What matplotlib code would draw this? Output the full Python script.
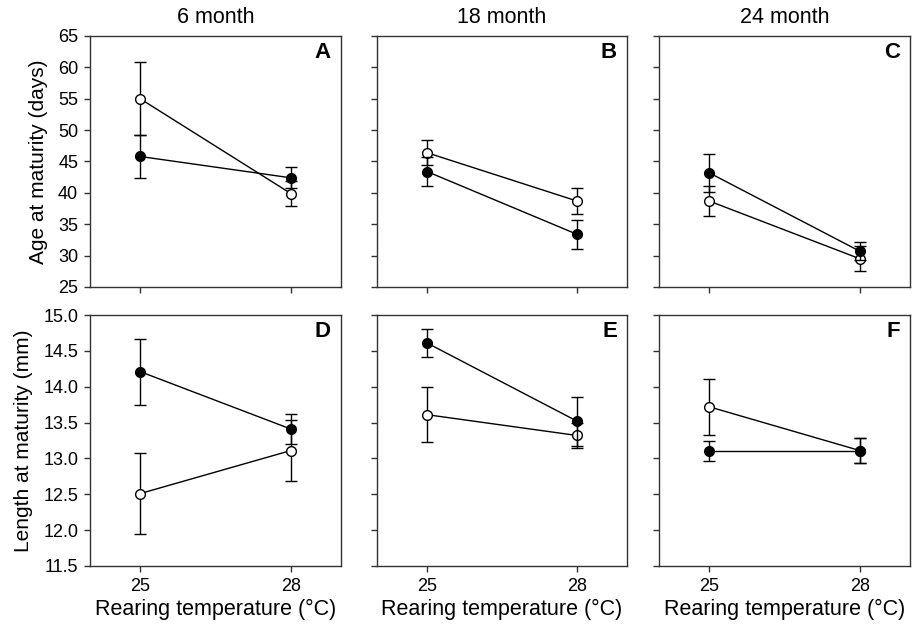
import matplotlib.pyplot as plt
import numpy as np

plt.rcParams['font.family'] = ['Liberation Sans', 'DejaVu Sans']

# Daten ablesen
temps = [25, 28]
months = ['6 month', '18 month', '24 month']
letters = [['A', 'B', 'C'], ['D', 'E', 'F']]

# Alter bei Reife (Tage): gefüllt / offen, Mittelwert und Fehler
age_filled = [[45.8, 42.4], [43.4, 33.4], [43.2, 30.7]]
age_filled_err = [[3.5, 1.7], [2.35, 2.3], [3.0, 1.4]]
age_open = [[55.0, 39.9], [46.4, 38.7], [38.7, 29.5]]
age_open_err = [[5.8, 2.0], [1.95, 2.0], [2.4, 2.0]]

# Länge bei Reife (mm)
len_filled = [[14.21, 13.41], [14.61, 13.52], [13.11, 13.11]]
len_filled_err = [[0.46, 0.21], [0.20, 0.34], [0.14, 0.17]]
len_open = [[12.51, 13.11], [13.61, 13.32], [13.72, 13.11]]
len_open_err = [[0.56, 0.42], [0.38, 0.17], [0.39, 0.18]]

W, H = 917, 624
fig = plt.figure(figsize=(W / 100, H / 100), dpi=100)

lefts = [90, 377, 659]
widths = [251, 250, 251]
tops = [36, 315]
height = 251

rows = [
    (age_filled, age_filled_err, age_open, age_open_err, (25, 65), np.arange(25, 66, 5), 'Age at maturity (days)', '{:.0f}'),
    (len_filled, len_filled_err, len_open, len_open_err, (11.5, 15.0), np.arange(11.5, 15.01, 0.5), 'Length at maturity (mm)', '{:.1f}'),
]

for r, (f, fe, o, oe, ylim, yt, ylab, fmt) in enumerate(rows):
    for c in range(3):
        ax = fig.add_axes([lefts[c] / W, 1 - (tops[r] + height) / H, widths[c] / W, height / H])
        ax.errorbar(temps, o[c], yerr=oe[c], color='black', lw=1.0, elinewidth=1.0,
                    capsize=4.6, capthick=1.0, marker='o', ms=7, mfc='white',
                    mec='black', mew=1.0, zorder=3)
        ax.errorbar(temps, f[c], yerr=fe[c], color='black', lw=1.0, elinewidth=1.0,
                    capsize=4.6, capthick=1.0, marker='o', ms=7, mfc='black',
                    mec='black', mew=1.0, zorder=4)
        ax.set_xlim(24, 29)
        ax.set_ylim(*ylim)
        ax.set_yticks(yt)
        ax.set_xticks(temps)
        for s in ax.spines.values():
            s.set_linewidth(1.0)
            s.set_color('#333333')
        ax.tick_params(direction='out', length=4.5, width=1.0, color='#333333',
                       labelsize=13, pad=4)
        if c == 0:
            ax.set_yticklabels([fmt.format(v) for v in yt])
            ax.set_ylabel(ylab, fontsize=15, labelpad=7)
        else:
            ax.set_yticklabels([])
        if r == 1:
            ax.set_xlabel('Rearing temperature (°C)', fontsize=15.5, labelpad=3)
        else:
            ax.set_xticklabels([])
            ax.set_title(months[c], fontsize=15.5, pad=9)
        ax.text(0.96, 0.975, letters[r][c], transform=ax.transAxes, ha='right',
                va='top', fontsize=16, fontweight='bold')

fig.savefig('out.png', dpi=100)
